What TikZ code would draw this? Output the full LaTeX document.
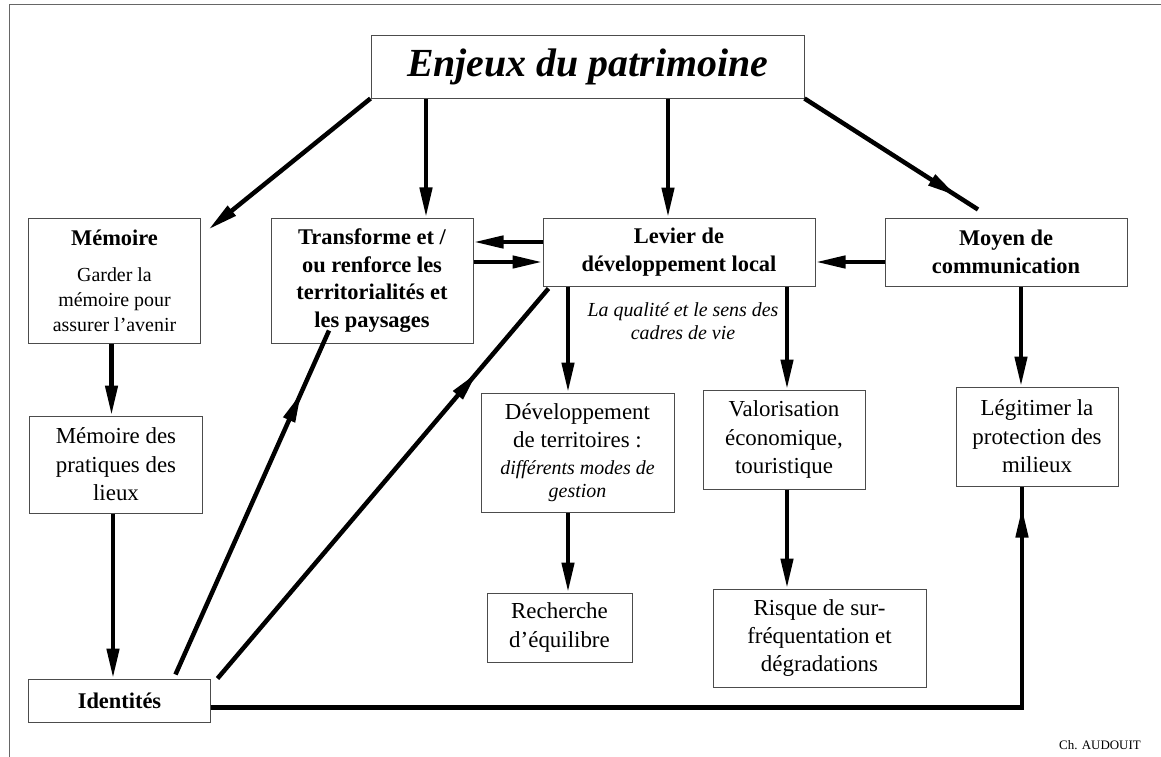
\documentclass[tikz,border=0pt]{standalone}
\usepackage{fontspec}
\setmainfont{Liberation Serif}
\usetikzlibrary{arrows.meta,decorations.markings}
\newcommand{\titlesz}{\fontsize{40}{46}\selectfont\bfseries\itshape}
\newcommand{\boldsz}{\normalfont\fontsize{22.5}{27.5}\selectfont\bfseries}
\newcommand{\plainsz}{\normalfont\fontsize{23}{28.5}\selectfont}
\newcommand{\smallsz}{\normalfont\fontsize{20}{25}\selectfont}
\newcommand{\itsz}{\normalfont\fontsize{20}{23}\selectfont\itshape}
\newcommand{\tipl}{30bp}
\newcommand{\tipw}{12bp}

\begin{document}
\begin{tikzpicture}[x=1bp,y=-1bp]
    %\draw[help lines,step=50] (0,0) grid (1161,757);
    \tikzset{
      box/.style={draw=black!70, line width=1bp, align=center, inner sep=2bp},
      link/.style={line width=4.5bp, -{Triangle[length=\tipl,width=\tipw]}},
      midlink/.style={line width=4.5bp, postaction={decorate},
        decoration={markings, mark=at position #1 with {\arrow{Triangle[length=\tipl,width=\tipw]}}}}
    }
    \useasboundingbox (0,0) rectangle (1161,757);
    \draw[black!60, line width=1bp] (9,757) -- (9,5) -- (1161,5);

    \node[box, minimum width=433bp, minimum height=62bp, font=\titlesz] (enjeux) at (587.5,67) {Enjeux du patrimoine};
    \node[box, minimum width=171bp, minimum height=125bp, font=\smallsz] (memoire) at (114.5,280.5)
        {\boldsz Mémoire\\[11bp] Garder la\\ mémoire pour\\ assurer l’avenir};
    \node[box, minimum width=202bp, minimum height=125bp, font=\boldsz] (transforme) at (372,280.5)
        {Transforme et /\\ ou renforce les\\ territorialités et\\ les paysages};
    \node[box, minimum width=272bp, minimum height=68bp, font=\boldsz] (levier) at (679,252)
        {Levier de\\ développement local};
    \node[box, minimum width=242bp, minimum height=68bp, font=\boldsz] (moyen) at (1006,252)
        {Moyen de\\ communication};
    \node[font=\itsz, align=center] (cadre) at (683,321) {La qualité et le sens des\\ cadres de vie};
    \node[box, minimum width=172bp, minimum height=97bp, font=\plainsz] (pratiques) at (116,464.5)
        {Mémoire des\\ pratiques des\\ lieux};
    \node[box, minimum width=181bp, minimum height=43bp, font=\boldsz] (identites) at (119.5,700.5)
        {Identités};
    \node[box, minimum width=193bp, minimum height=119bp, font=\plainsz] (developpement) at (577.5,452.5)
        {Développement\\ de territoires :\\[-2bp] \itsz différents modes de\\[-5.5bp] \itsz gestion};
    \node[box, minimum width=145bp, minimum height=69bp, font=\plainsz] (recherche) at (559.5,627.5)
        {Recherche\\ d’équilibre};
    \node[box, minimum width=162bp, minimum height=99bp, font=\plainsz] (valorisation) at (784,439.5)
        {Valorisation\\ économique,\\ touristique};
    \node[box, minimum width=213bp, minimum height=98bp, font=\plainsz] (risque) at (819.5,638)
        {Risque de sur-\\ fréquentation et\\ dégradations};
    \node[box, minimum width=162bp, minimum height=99bp, font=\plainsz] (legitimer) at (1037,436.5)
        {Légitimer la\\ protection des\\ milieux};
    \node[font=\fontsize{13}{15}\selectfont] (auteur) at (1100,745) {Ch. AUDOUIT};

    % from the title
    \draw[link] (enjeux.south west) -- ([xshift=8bp,yshift=-12bp]memoire.north east);
    \draw[link] ([xshift=54bp]transforme.north |- enjeux.south) -- ([xshift=54bp]transforme.north);
    \draw[link] ([xshift=-11bp]levier.north |- enjeux.south) -- ([xshift=-11bp]levier.north);
    \draw[midlink=-25bp] (enjeux.south east) -- ([xshift=-28bp,yshift=8bp]moyen.north);
    % middle row
    \draw[link] ([yshift=10bp]levier.west) -- ([yshift=10bp]levier.west -| transforme.east);
    \draw[link] ([yshift=-10bp]levier.west -| transforme.east) -- ([yshift=-10bp]levier.west);
    \draw[link] ([yshift=-10bp]moyen.west) -- ([yshift=-10bp]levier.east);
    % downwards
    \draw[link] ([xshift=-9.5bp]developpement.north |- levier.south) -- ([xshift=-9.5bp]developpement.north);
    \draw[link] ([xshift=3bp]valorisation.north |- levier.south) -- ([xshift=3bp]valorisation.north);
    \draw[link] ([xshift=-16bp]legitimer.north |- moyen.south) -- ([xshift=-16bp]legitimer.north);
    \draw[link] ([xshift=-3bp]memoire.south) -- ([xshift=-3bp]memoire.south |- pratiques.north);
    \draw[link] ([xshift=-3bp]pratiques.south) -- ([xshift=-3bp]pratiques.south |- identites.north);
    \draw[link] ([xshift=-9.5bp]developpement.south) -- ([xshift=-9.5bp]developpement.south |- recherche.north);
    \draw[link] ([xshift=3bp]valorisation.south) -- ([xshift=3bp]valorisation.south |- risque.north);
    % from identites
    \draw[midlink=-68bp] ([xshift=56bp,yshift=4bp]identites.north) -- ([xshift=-43bp,yshift=13bp]transforme.south);
    \draw[midlink=-110bp] ([xshift=7bp]identites.north east) -- ([xshift=6bp,yshift=-2bp]levier.south west);
    \draw[midlink=-21bp] ([yshift=-7bp]identites.east) -| ([xshift=-15bp]legitimer.south);
\end{tikzpicture}
\end{document}
